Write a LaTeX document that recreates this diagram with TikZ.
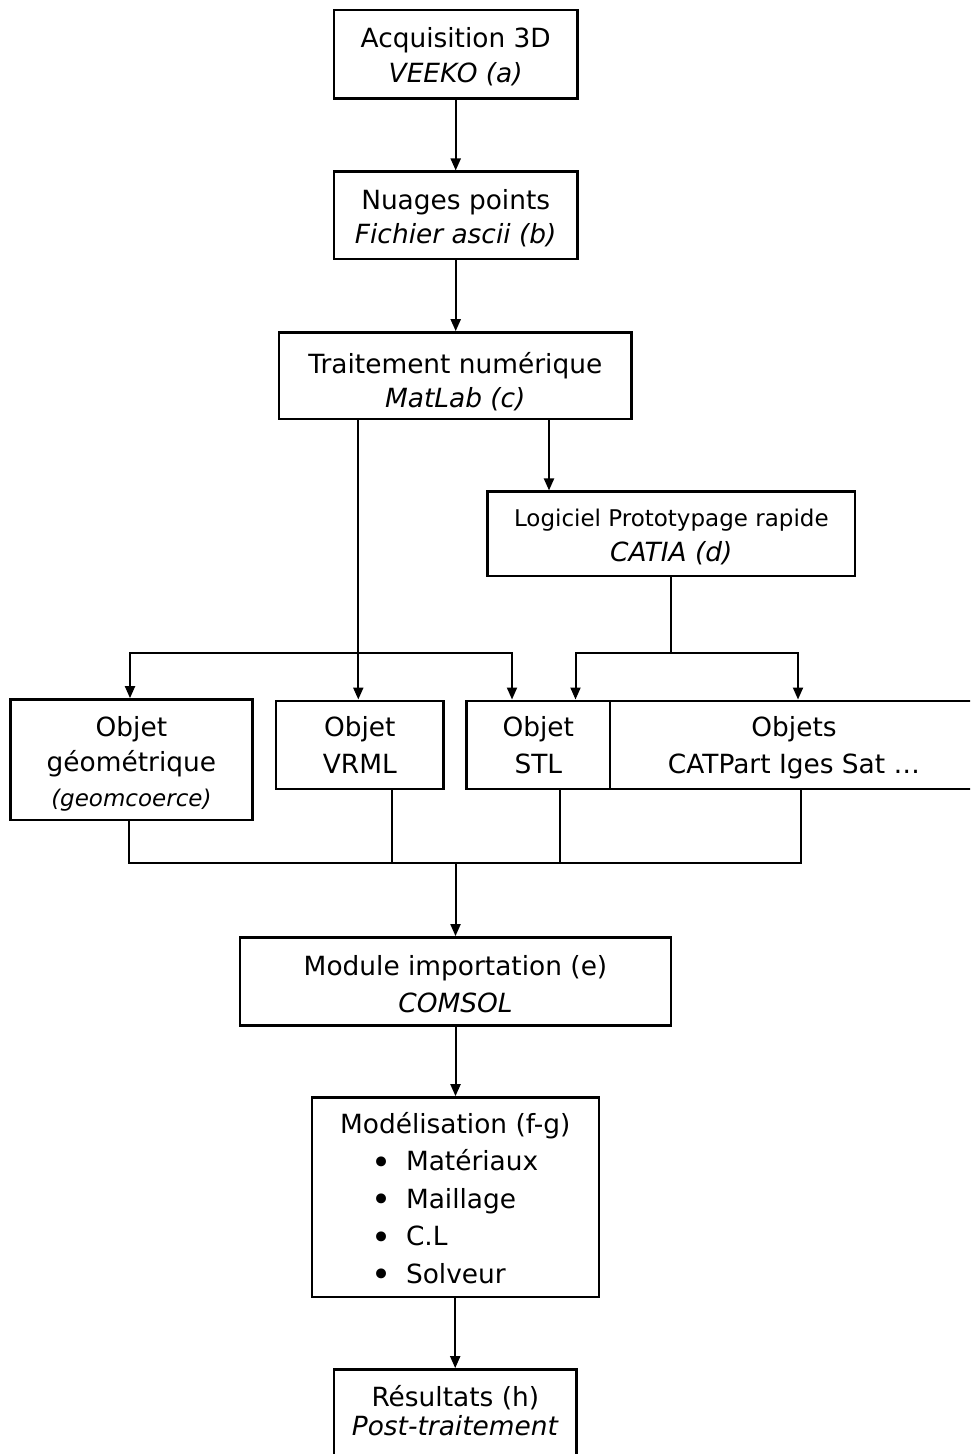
\documentclass[tikz,border=0pt]{standalone}
\usepackage{fontspec}
\setmainfont{DejaVu Sans}
\usetikzlibrary{arrows.meta}
\newcommand\mytop[1]{\rule{0pt}{#1}}
\newcommand\mybot[1]{\rule[-#1]{0pt}{#1}}
\newcommand\mybul{\makebox[17.5pt][l]{\raisebox{-1.6pt}{\fontsize{17}{17}\selectfont •}}}
\begin{document}
\begin{tikzpicture}[x=0.5pt,y=-0.5pt,
  box/.style={draw, line width=1.2pt, inner sep=0pt, align=center},
  conn/.style={line width=1pt},
  arr/.style={line width=1pt, -{Triangle[length=6pt,width=5pt]}},
  fs/.style={font=\fontsize{13.2}{#1}\selectfont}]
\useasboundingbox (0,0) rectangle (970,1454);
\clip (0,0) rectangle (970,1454);
\fill[white] (0,0) rectangle (970,1454);

\node[box, fs=17.5pt, minimum width=121.75pt, minimum height=44.25pt] (A) at (455.7,54.2)
  {\mytop{14pt}Acquisition 3D\\\textit{VEEKO (a)}\mybot{2.7pt}};
\node[box, fs=16.65pt, minimum width=121.75pt, minimum height=43.65pt] (B) at (455.7,215.3)
  {\mytop{14pt}Nuages points\\\textit{Fichier ascii (b)}\mybot{2.65pt}};
\node[box, fs=16.65pt, minimum width=176.35pt, minimum height=43.35pt] (C) at (455.3,375.7)
  {\mytop{18pt}Traitement numérique\\\textit{MatLab (c)}\mybot{3.05pt}};
\node[box, fs=17.85pt, minimum width=183.7pt, minimum height=42.15pt] (D) at (671.3,533.8)
  {\mytop{14pt}{\fontsize{11.5}{17.85pt}\selectfont Logiciel Prototypage rapide}\\\textit{CATIA (d)}\mybot{3.95pt}};
\node[box, fs=17.5pt, minimum width=121pt, minimum height=60.35pt] (G) at (131.4,759.7)
  {\mytop{15pt}Objet\\géométrique\\{\fontsize{11.5}{17.5pt}\selectfont\itshape (geomcoerce)}\mybot{3pt}};
\node[box, fs=18.15pt, minimum width=83.85pt, minimum height=44.15pt] (V) at (359.8,744.85)
  {\mytop{14pt}Objet\\VRML\mybot{3.95pt}};
\node[box, fs=18.15pt, minimum width=71.7pt, minimum height=44.15pt] (S) at (538.3,744.85)
  {\mytop{14pt}Objet\\STL\mybot{3.95pt}};
\node[box, fs=18.15pt, minimum width=184pt, minimum height=44.15pt] (O) at (794,744.85)
  {\mytop{14pt}Objets\\CATPart Iges Sat …\mybot{3.95pt}};
\node[box, fs=18.15pt, minimum width=215.5pt, minimum height=44pt] (M) at (455.5,981.3)
  {\mytop{15.5pt}Module importation (e)\\\textit{COMSOL}\mybot{2.95pt}};
\node[box, fs=18.75pt, minimum width=143.5pt, minimum height=99.85pt] (Mo) at (455.2,1197.2)
  {\mytop{14pt}Modélisation (f-g)\\
   \makebox[84.2pt][l]{\mybul Matériaux}\\
   \makebox[84.2pt][l]{\mybul Maillage}\\
   \makebox[84.2pt][l]{\mybul C.L}\\
   \makebox[84.2pt][l]{\mybul Solveur}\mybot{2.8pt}};
\node[box, fs=14.15pt, minimum width=121.35pt, minimum height=49.5pt] (R) at (455.3,1418.8)
  {\mytop{14pt}Résultats (h)\\\textit{Post-traitement}\mybot{11.95pt}};

% top chain
\draw[arr] (A.south) -- (A.south |- B.north);
\draw[arr] (B.south) -- (B.south |- C.north);

% split from C
\coordinate (cL) at (358.3,652.5);
\coordinate (cR) at (549,460);
\coordinate (hL) at (130,652.5);
\coordinate (hR) at (512,652.5);
\draw[conn] (C.south -| cL) -- (cL);
\draw[arr] (cL) -- (cL |- V.north);
\draw[arr] (hR) -| (hL |- G.north);
\draw[arr] (hL) -| (hR |- S.north);
\draw[arr] (C.south -| cR) -- (cR |- D.north);

% split from D
\coordinate (dL) at (575.5,652.5);
\coordinate (dR) at (798,652.5);
\draw[conn] (D.south) -- (D.south |- dL);
\draw[arr] (dR) -| (dL |- S.north);
\draw[arr] (dL) -| (dR |- O.north);

% collect
\coordinate (b1) at (128.5,862.7);
\coordinate (b2) at (392,862.7);
\coordinate (b3) at (560,862.7);
\coordinate (b4) at (801,862.7);
\draw[conn] (b1 |- G.south) -- (b1) -- (b4) -- (b4 |- O.south);
\draw[conn] (b2 |- V.south) -- (b2);
\draw[conn] (b3 |- S.south) -- (b3);
\draw[arr] (M.north |- b1) -- (M.north);

% bottom chain
\draw[arr] (M.south) -- (M.south |- Mo.north);
\draw[arr] (Mo.south) -- (Mo.south |- R.north);
\end{tikzpicture}
\end{document}
